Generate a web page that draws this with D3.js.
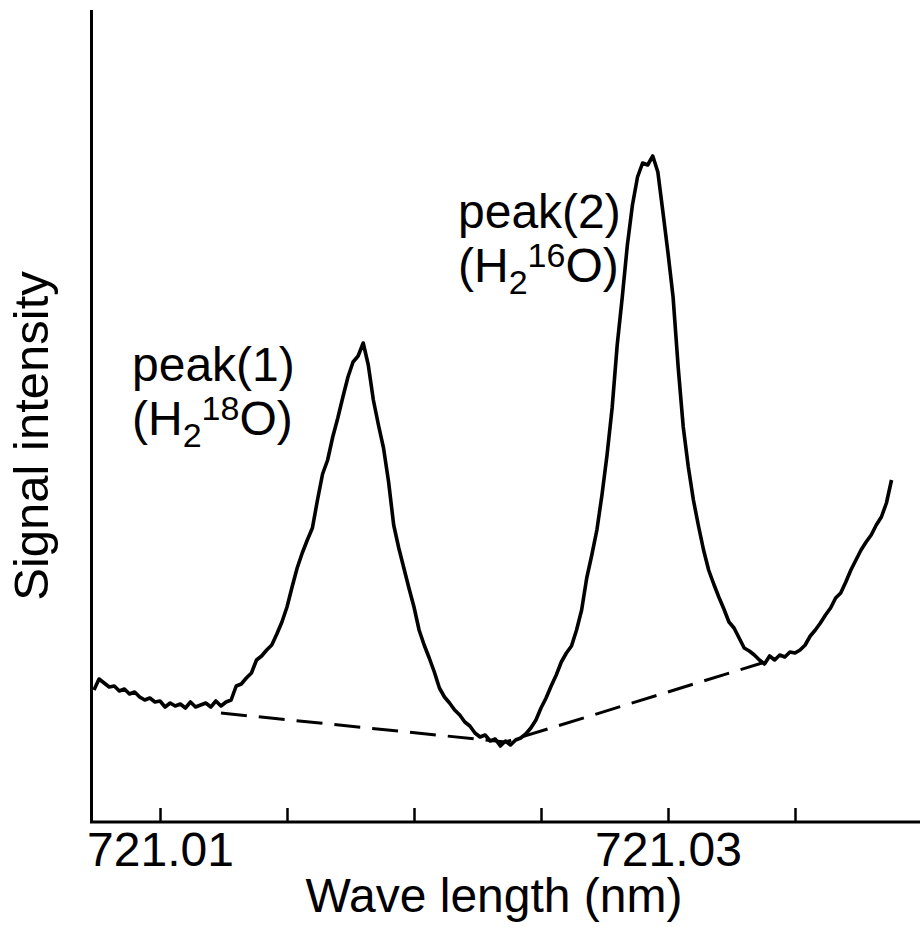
<!DOCTYPE html>
<html>
<head>
<meta charset="utf-8">
<script src="https://cdn.jsdelivr.net/npm/d3@7"></script>
<style>
  html, body { margin: 0; padding: 0; background: #fff; }
  svg { display: block; font-family: "Liberation Sans", Arial, Helvetica, sans-serif; }
</style>
</head>
<body>
<script>
// prettier-ignore
const wavelength = [
  721.0074, 721.0076, 721.0078, 721.0080, 721.0082, 721.0084, 721.0086, 721.0088, 721.0090, 721.0092,
  721.0094, 721.0096, 721.0098, 721.0100, 721.0102, 721.0104, 721.0106, 721.0108, 721.0110, 721.0112,
  721.0114, 721.0116, 721.0118, 721.0120, 721.0122, 721.0124, 721.0126, 721.0128, 721.0130, 721.0132,
  721.0134, 721.0136, 721.0138, 721.0140, 721.0142, 721.0144, 721.0146, 721.0148, 721.0150, 721.0152,
  721.0154, 721.0156, 721.0158, 721.0160, 721.0162, 721.0164, 721.0166, 721.0168, 721.0170, 721.0172,
  721.0174, 721.0176, 721.0178, 721.0180, 721.0182, 721.0184, 721.0186, 721.0188, 721.0190, 721.0192,
  721.0194, 721.0196, 721.0198, 721.0200, 721.0202, 721.0204, 721.0206, 721.0208, 721.0210, 721.0212,
  721.0214, 721.0216, 721.0218, 721.0220, 721.0222, 721.0224, 721.0226, 721.0228, 721.0230, 721.0232,
  721.0234, 721.0236, 721.0238, 721.0240, 721.0242, 721.0244, 721.0246, 721.0248, 721.0250, 721.0252,
  721.0254, 721.0256, 721.0258, 721.0260, 721.0262, 721.0264, 721.0266, 721.0268, 721.0270, 721.0272,
  721.0274, 721.0276, 721.0278, 721.0280, 721.0282, 721.0284, 721.0286, 721.0288, 721.0290, 721.0292,
  721.0294, 721.0296, 721.0298, 721.0300, 721.0302, 721.0304, 721.0306, 721.0308, 721.0310, 721.0312,
  721.0314, 721.0316, 721.0318, 721.0320, 721.0322, 721.0324, 721.0326, 721.0328, 721.0330, 721.0332,
  721.0334, 721.0336, 721.0338, 721.0340, 721.0342, 721.0344, 721.0346, 721.0348, 721.0350, 721.0352,
  721.0354, 721.0356, 721.0358, 721.0360, 721.0362, 721.0364, 721.0366, 721.0368, 721.0370, 721.0372,
  721.0374, 721.0376, 721.0378, 721.0380, 721.0382, 721.0384, 721.0386, 721.0388
];

// signal intensity, arbitrary units
// prettier-ignore
const intensity = [
  13.2, 14.3, 13.9, 13.5, 13.6, 13.1, 13.3, 12.8, 13.0, 12.5,
  12.2, 12.4, 12.0, 12.1, 11.5, 11.9, 11.6, 11.8, 11.4, 12.0,
  11.5, 11.7, 11.9, 11.5, 12.1, 11.6, 12.0, 12.2, 13.6, 13.8,
  14.4, 14.9, 16.2, 16.6, 17.2, 17.7, 18.8, 20.0, 21.5, 23.5,
  25.4, 26.9, 28.2, 29.4, 32.2, 34.8, 36.2, 38.5, 40.4, 42.5,
  44.5, 46.0, 46.6, 47.9, 45.7, 42.2, 39.7, 37.4, 34.0, 29.7,
  27.4, 25.4, 23.4, 21.5, 19.2, 17.7, 16.4, 15.0, 13.4, 12.5,
  11.9, 11.2, 10.7, 10.0, 9.6, 8.9, 8.5, 8.7, 8.1, 8.3,
  7.6, 8.1, 7.7, 8.2, 8.4, 8.8, 9.4, 10.2, 11.4, 12.4,
  13.6, 14.7, 16.0, 16.9, 17.6, 19.2, 21.2, 24.4, 26.7, 29.2,
  32.7, 36.7, 41.4, 47.7, 52.5, 57.7, 61.7, 64.5, 65.9, 65.7,
  66.6, 65.0, 61.0, 56.9, 52.5, 45.5, 39.5, 35.5, 32.2, 29.6,
  27.2, 25.2, 23.8, 22.5, 21.3, 20.0, 19.4, 18.4, 17.4, 17.1,
  16.7, 16.2, 15.8, 16.6, 16.2, 16.7, 16.5, 17.0, 16.9, 17.2,
  17.7, 18.6, 19.2, 19.9, 20.7, 21.4, 22.4, 22.9, 24.0, 25.2,
  26.2, 27.2, 28.0, 28.7, 29.7, 30.5, 31.9, 34.2
];

// dashed background line under the two peaks
const baseWavelength = [721.0124, 721.0236, 721.0337];
const baseIntensity = [10.9, 8.0, 15.9];

const tickValues = [721.01, 721.015, 721.02, 721.025, 721.03, 721.035];
const tickLabels = ["721.01", "", "", "", "721.03", ""];

const width = 920;
const height = 927;
const plot = { left: 91.5, right: 920, top: 10, bottom: 822 };
const fontSize = 48;

const x = d3.scaleLinear().domain([721.01, 721.03]).range([160, 668]);
const y = d3.scaleLinear().domain([0, 81.2]).range([plot.bottom, plot.top]);

const svg = d3
  .select("body")
  .append("svg")
  .attr("width", width)
  .attr("height", height)
  .attr("viewBox", `0 0 ${width} ${height}`);

const spectrum = wavelength.map((d, i) => [d, intensity[i]]);
const baseline = baseWavelength.map((d, i) => [d, baseIntensity[i]]);

const line = d3
  .line()
  .x((d) => x(d[0]))
  .y((d) => y(d[1]));

// axes
const xAxis = d3
  .axisBottom(x)
  .tickValues(tickValues)
  .tickFormat((d, i) => tickLabels[i])
  .tickSizeInner(-14)
  .tickSizeOuter(0)
  .tickPadding(10);

const gx = svg
  .append("g")
  .attr("transform", `translate(0 ${plot.bottom})`)
  .call(xAxis);

gx.select(".domain").remove();
gx.selectAll(".tick line").attr("stroke", "#000").attr("stroke-width", 2.5);
gx.selectAll(".tick text")
  .attr("fill", "#000")
  .attr("font-size", fontSize)
  .attr("font-family", "Liberation Sans, Arial, sans-serif");

svg
  .append("path")
  .attr("fill", "none")
  .attr("stroke", "#000")
  .attr("stroke-width", 3)
  .attr("d", `M${plot.left},${plot.top}V${plot.bottom}H${plot.right}`);

// curves
svg
  .append("path")
  .datum(baseline)
  .attr("fill", "none")
  .attr("stroke", "#000")
  .attr("stroke-width", 3)
  .attr("stroke-dasharray", "26 12")
  .attr("d", line);

svg
  .append("path")
  .datum(spectrum)
  .attr("fill", "none")
  .attr("stroke", "#000")
  .attr("stroke-width", 3.6)
  .attr("stroke-linejoin", "round")
  .attr("d", line);

// axis titles
svg
  .append("text")
  .attr("x", 494)
  .attr("y", 912)
  .attr("text-anchor", "middle")
  .attr("font-size", fontSize)
  .text("Wave length (nm)");

svg
  .append("text")
  .attr("transform", "translate(48 436) rotate(-90)")
  .attr("text-anchor", "middle")
  .attr("font-size", fontSize + 1)
  .text("Signal intensity");

// peak labels
const peaks = [
  { name: "peak(1)", iso: "18", x: 132, y: 381 },
  { name: "peak(2)", iso: "16", x: 458, y: 228 },
];

peaks.forEach((p) => {
  svg
    .append("text")
    .attr("x", p.x)
    .attr("y", p.y)
    .attr("font-size", fontSize)
    .text(p.name);

  const t = svg
    .append("text")
    .attr("x", p.x)
    .attr("y", p.y + 54)
    .attr("font-size", fontSize);
  t.append("tspan").text("(H");
  t.append("tspan").attr("font-size", 34).attr("dy", 12).text("2");
  t.append("tspan").attr("font-size", 34).attr("dy", -27).text(p.iso);
  t.append("tspan").attr("dy", 15).text("O)");
});
</script>
</body>
</html>
